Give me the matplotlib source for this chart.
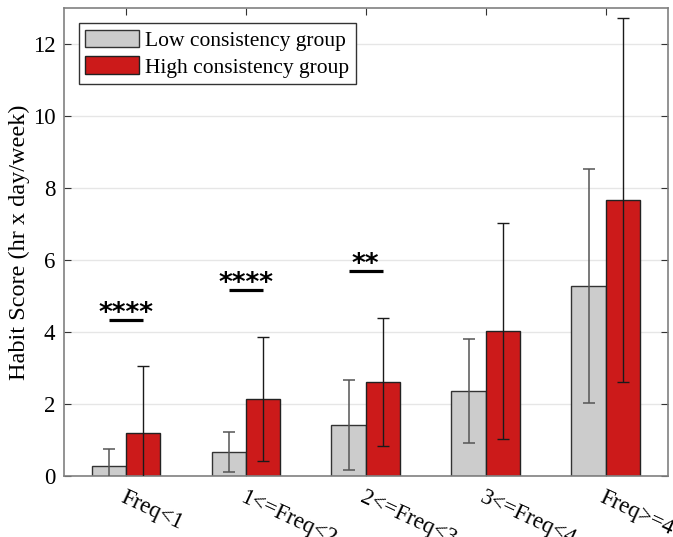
import matplotlib.pyplot as plt
import numpy as np

groups = ["Freq<1", "1<=Freq<2", "2<=Freq<3", "3<=Freq<4", "Freq>=4"]
low_mean = [0.27, 0.66, 1.41, 2.37, 5.29]
low_err = [0.48, 0.55, 1.25, 1.44, 3.25]
high_mean = [1.19, 2.15, 2.61, 4.03, 7.67]
high_err = [1.86, 1.72, 1.78, 2.99, 5.05]
sig_group = [0, 1, 2]
sig_y = [4.34, 5.16, 5.70]
sig_text = ["****", "****", "**"]

plt.rcParams['font.family'] = ['Liberation Serif', 'DejaVu Serif']

fig = plt.figure(figsize=(6.73, 5.37), dpi=100)
ax = fig.add_axes([0.0944, 0.1136, 0.8982, 0.8714])

x = np.arange(1, len(groups) + 1)
w = 0.286
ax.bar(x - w/2, low_mean, w, color='#cccccc', edgecolor='#333333', linewidth=1.0,
       label='Low consistency group', zorder=2)
ax.bar(x + w/2, high_mean, w, color='#cc1a1a', edgecolor='#222222', linewidth=1.0,
       label='High consistency group', zorder=2)
ax.errorbar(x - w/2, low_mean, yerr=low_err, fmt='none', ecolor='#555555',
            elinewidth=1.1, capsize=4, capthick=1.1, zorder=3)
ax.errorbar(x + w/2, high_mean, yerr=high_err, fmt='none', ecolor='#1a1a1a',
            elinewidth=1.0, capsize=4, capthick=1.0, zorder=3)

for g, y, t in zip(sig_group, sig_y, sig_text):
    ax.plot([x[g] - 0.14, x[g] + 0.14], [y, y], color='black', lw=2.3, zorder=4,
            solid_capstyle='butt')
    ax.text(x[g], y - 0.19, t, ha='center', va='bottom', fontsize=19,
            fontweight='bold', family='DejaVu Sans')

ax.set_xlim(0.48, 5.52)
ax.set_ylim(0, 13)
ax.set_yticks(np.arange(0, 13, 2))
ax.set_xticks(x)
ax.set_xticklabels(groups, rotation=-25, ha='left', va='top',
                   rotation_mode='anchor', fontsize=16.5)
ax.tick_params(axis='x', pad=8, direction='in', top=True, length=5, color='#333333')
ax.tick_params(axis='y', labelsize=16.5, direction='in', right=True, length=5,
               color='#333333', pad=6)
ax.yaxis.grid(True, color='#e6e6e6', lw=1.0, zorder=0)
ax.set_axisbelow(True)
for s in ax.spines.values():
    s.set_color('#808080')
    s.set_linewidth(1.2)
ax.set_ylabel('Habit Score (hr x day/week)', fontsize=17.5, labelpad=2)

leg = ax.legend(loc='upper left', fontsize=15.5, handlelength=2.5, handleheight=0.9,
                borderaxespad=0.7, fancybox=False, edgecolor='#333333',
                framealpha=1, borderpad=0.3, labelspacing=0.25, handletextpad=0.3)
leg.get_frame().set_linewidth(1.0)

plt.savefig('out.png', dpi=100)
